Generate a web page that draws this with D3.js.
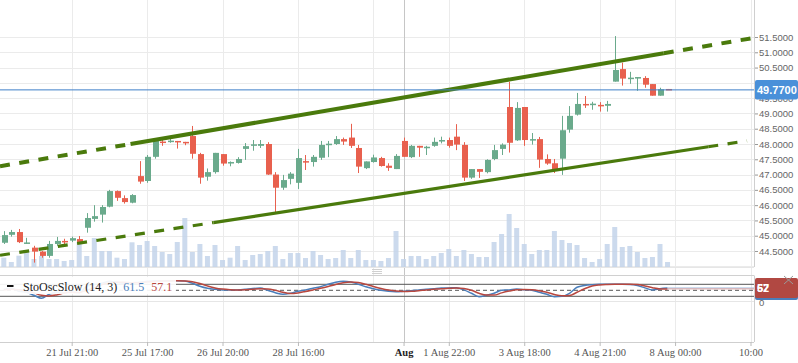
<!DOCTYPE html>
<html>
<head>
<meta charset="utf-8">
<script src="https://cdn.jsdelivr.net/npm/d3@7"></script>
<style>
  body { margin: 0; background: #fff; }
  svg { display: block; }
</style>
</head>
<body>
<svg id="chart" width="798" height="363"></svg>
<script>
// candles, one per bar (index 0..88)
const candleOpen = [
  44.77, 45.03, 45.12, 44.76, 44.61, 44.48, 44.34, 44.73, 44.83, 44.84,
  44.89, 45.26, 45.55, 45.69, 45.95, 46.46, 46.23, 46.08, 46.95, 46.79,
  47.58, 48.08, 48.08, 48.10, 48.07, 48.26, 47.67, 46.93, 47.08, 47.67,
  47.37, 47.38, 47.84, 47.94, 47.94, 48.00, 47.00, 46.57, 46.86, 46.73,
  47.44, 47.41, 47.55, 47.98, 48.00, 48.16, 48.21, 47.87, 47.21, 47.41,
  47.54, 47.29, 47.18, 48.10, 47.57, 47.94, 47.89, 47.94, 48.08, 48.13,
  48.24, 47.97, 46.90, 47.18, 47.08, 47.51, 47.84, 49.21, 48.12, 49.21,
  48.13, 48.16, 47.51, 47.37, 47.52, 48.47, 48.96, 49.31, 49.29, 49.28,
  49.25, 50.04, 50.45, 50.14, 50.14, 50.16, 49.96, 49.58, 49.80
];
const candleHigh = [
  45.15, 45.19, 45.22, 44.93, 44.67, 44.50, 44.83, 44.96, 44.90, 44.97,
  44.99, 45.74, 46.00, 46.00, 46.50, 46.48, 46.32, 46.36, 47.44, 47.64,
  48.15, 48.15, 48.21, 48.10, 48.07, 48.59, 47.71, 47.20, 47.71, 47.67,
  47.43, 47.57, 48.03, 48.13, 48.13, 48.06, 47.08, 46.99, 47.08, 47.84,
  47.64, 47.64, 48.10, 48.10, 48.26, 48.21, 48.66, 47.97, 47.43, 47.65,
  47.58, 47.37, 47.67, 48.21, 47.97, 47.94, 47.94, 48.21, 48.24, 48.21,
  48.65, 48.06, 47.18, 47.18, 47.50, 47.97, 48.02, 50.04, 49.37, 49.21,
  48.36, 48.23, 47.66, 47.51, 48.92, 49.24, 49.67, 49.57, 49.38, 49.37,
  49.41, 51.53, 50.66, 50.36, 50.19, 50.22, 49.96, 49.84, 49.80
];
const candleLow = [
  44.73, 44.97, 44.76, 44.73, 44.12, 44.28, 44.28, 44.67, 44.67, 44.79,
  44.73, 45.10, 45.46, 45.43, 45.93, 46.14, 46.05, 46.06, 46.70, 46.73,
  47.52, 47.94, 48.04, 47.85, 47.96, 47.52, 46.70, 46.80, 47.03, 47.29,
  47.27, 47.36, 47.48, 47.78, 47.87, 46.99, 45.73, 46.50, 46.68, 46.53,
  47.15, 47.26, 47.48, 47.57, 47.97, 47.97, 47.87, 47.05, 47.18, 47.39,
  47.26, 47.12, 47.18, 47.58, 47.54, 47.58, 47.64, 47.91, 48.02, 47.88,
  47.80, 46.79, 46.86, 46.89, 47.04, 47.47, 47.64, 47.72, 48.10, 47.94,
  47.98, 47.22, 47.32, 47.05, 46.99, 48.37, 48.93, 49.18, 49.12, 49.06,
  49.06, 50.04, 49.91, 49.97, 49.74, 49.84, 49.58, 49.58, 49.77
];
const candleClose = [
  45.02, 45.12, 44.79, 44.78, 44.48, 44.34, 44.73, 44.83, 44.79, 44.92,
  44.75, 45.58, 45.64, 45.94, 46.46, 46.24, 46.10, 46.33, 46.77, 47.58,
  48.10, 48.04, 48.11, 48.07, 48.03, 47.68, 46.90, 47.08, 47.71, 47.36,
  47.41, 47.51, 47.93, 47.99, 48.00, 47.00, 46.57, 46.82, 47.03, 47.54,
  47.41, 47.58, 47.97, 48.01, 48.16, 48.08, 47.94, 47.26, 47.43, 47.56,
  47.28, 47.22, 47.61, 47.58, 47.94, 47.88, 47.91, 48.07, 48.13, 47.94,
  47.98, 46.90, 47.18, 47.09, 47.48, 47.80, 47.98, 48.04, 49.18, 48.13,
  48.16, 47.49, 47.36, 47.18, 48.45, 48.92, 49.31, 49.28, 49.32, 49.24,
  49.31, 50.42, 50.14, 50.17, 50.19, 49.94, 49.58, 49.79, 49.77
];
const volumes = [
  93, 50, 113, 170, 80, 110, 80, 80, 60, 70,
  247, 110, 290, 160, 160, 93, 80, 247, 220, 260,
  210, 150, 130, 250, 490, 150, 230, 110, 220, 70,
  93, 210, 70, 120, 130, 160, 210, 80, 140, 140,
  90, 160, 120, 80, 90, 170, 90, 170, 70, 70,
  60, 90, 360, 80, 110, 110, 80, 110, 140, 180,
  110, 170, 130, 100, 100, 250, 330, 530, 390, 230,
  130, 170, 170, 360, 270, 240, 220, 90, 50, 80,
  230, 400, 200, 210, 150, 90, 100, 230, 50
];
const stochK = [
  55, 60, 45, 40, 25, 10, 30, 40, 38, 42,
  38, 70, 78, 85, 95, 90, 85, 88, 90, 95,
  98, 97, 98, 98, 96, 85, 70, 60, 55, 52,
  51, 52, 55, 59, 61, 50, 38, 30, 35, 45,
  52, 60, 68, 80, 90, 95, 92, 80, 68, 58,
  50, 45, 43, 45, 48, 52, 55, 58, 61, 62,
  63, 52, 35, 18, 25, 35, 50, 52, 56, 53,
  50, 40, 30, 18, 20, 35, 65, 74, 78, 80,
  80, 80, 80, 79, 74, 62, 52, 58, 61.5
];
const stochD = [
  52, 55, 53, 48, 37, 25, 22, 27, 36, 40,
  39, 50, 62, 78, 86, 90, 90, 88, 88, 91,
  94, 97, 97, 98, 97, 93, 84, 72, 62, 56,
  53, 52, 53, 55, 58, 57, 50, 40, 34, 37,
  44, 52, 60, 69, 79, 88, 92, 89, 80, 69,
  59, 51, 46, 44, 45, 48, 52, 55, 58, 60,
  62, 59, 50, 35, 26, 26, 37, 46, 53, 54,
  53, 48, 40, 29, 23, 24, 40, 58, 72, 77,
  79, 80, 80, 80, 79, 72, 63, 57, 57.1
];

const priceTicks = [44.5, 45, 45.5, 46, 46.5, 47, 47.5, 48, 48.5, 49, 49.5, 50, 50.5, 51, 51.5];
const priceGrid = [44, 44.5, 45, 45.5, 46, 46.5, 47, 47.5, 48, 48.5, 49, 49.5, 50, 50.5, 51, 51.5];
const gridIdx = [9, 19, 29, 39, 49, 59, 69, 79, 89, 99];
const labelIdx = [9, 19, 29, 39, 53, 59, 69, 79, 89, 99];
const timeLabels = ["21 Jul 21:00", "25 Jul 17:00", "26 Jul 20:00", "28 Jul 16:00", "Aug",
                    "1 Aug 22:00", "3 Aug 18:00", "4 Aug 21:00", "8 Aug 00:00", "10:00"];
const monthIdx = 53;

// channel anchors: [bar index, price]
const upperChannel = [[16.8, 48.00], [87.5, 50.97]];
const lowerChannel = [[27.8, 45.43], [93.4, 47.91]];
const lastPrice = 49.77;
const stochLast = [61.5, 57.1];
const stochLevels = [20, 80];

const svg = d3.select("#chart");
const right = 754;

const x = d3.scaleLinear().domain([0, 99]).range([3.8, 750.5]);
const y = d3.scaleLinear().domain([44.5, 51.5]).range([251, 37]);
const yVol = d3.scaleLinear().domain([0, 600]).range([267, 207]);
const yOsc = d3.scaleLinear().domain([0, 100]).range([300.3, 280.3]);

const green = "#6aaa8c", red = "#e8604e", lineGreen = "#4a7a0c";
const blueK = "#4a7ebb", redD = "#b8473f";

// grid
svg.append("g").selectAll("line").data(priceGrid).join("line")
    .attr("x1", 0).attr("x2", right)
    .attr("y1", d => Math.round(y(d)) + 0.5).attr("y2", d => Math.round(y(d)) + 0.5)
    .attr("stroke", "#ebebeb");

svg.append("g").selectAll("line").data(gridIdx).join("line")
    .attr("x1", d => Math.round(x(d)) + 0.5).attr("x2", d => Math.round(x(d)) + 0.5)
    .attr("y1", 0).attr("y2", 342)
    .attr("stroke", "#ebebeb");

svg.append("line")
    .attr("x1", Math.round(x(monthIdx)) + 0.5).attr("x2", Math.round(x(monthIdx)) + 0.5)
    .attr("y1", 0).attr("y2", 342)
    .attr("stroke", "#c6c6c6");

// volume
svg.append("g").selectAll("rect").data(volumes).join("rect")
    .attr("x", (d, i) => x(i) - 2.5)
    .attr("width", 5)
    .attr("y", d => yVol(d))
    .attr("height", d => yVol(0) - yVol(d))
    .attr("fill", "#c3d4ea")
    .attr("opacity", 0.85);

// candles
const candles = svg.append("g").selectAll("g").data(candleOpen).join("g");
candles.append("line")
    .attr("x1", (d, i) => Math.round(x(i)) + 0.5).attr("x2", (d, i) => Math.round(x(i)) + 0.5)
    .attr("y1", (d, i) => y(candleHigh[i])).attr("y2", (d, i) => y(candleLow[i]))
    .attr("stroke", (d, i) => candleClose[i] >= d ? green : red)
    .attr("stroke-width", 1);
candles.append("rect")
    .attr("x", (d, i) => Math.round(x(i)) - 2)
    .attr("width", 6)
    .attr("y", (d, i) => y(Math.max(d, candleClose[i])))
    .attr("height", (d, i) => Math.max(1.5, Math.abs(y(d) - y(candleClose[i]))))
    .attr("fill", (d, i) => candleClose[i] >= d ? green : red);

// channel lines
function priceAt(a, idx) {
  const t = (idx - a[0][0]) / (a[1][0] - a[0][0]);
  return a[0][1] + t * (a[1][1] - a[0][1]);
}
function drawChannel(a, width, endIdx) {
  const startIdx = x.invert(0);
  const seg = (i0, i1, dashed) => svg.append("line")
      .attr("x1", x(i0)).attr("y1", y(priceAt(a, i0)))
      .attr("x2", x(i1)).attr("y2", y(priceAt(a, i1)))
      .attr("stroke", lineGreen)
      .attr("stroke-width", width)
      .attr("stroke-dasharray", dashed ? "10,9.5" : null);
  seg(startIdx, a[0][0], true);
  seg(a[0][0], a[1][0], false);
  seg(a[1][0], endIdx, true);
}
drawChannel(upperChannel, 4, x.invert(753));
drawChannel(lowerChannel, 3.2, x.invert(747));

// last price line
svg.append("line")
    .attr("x1", 0).attr("x2", right)
    .attr("y1", y(lastPrice)).attr("y2", y(lastPrice))
    .attr("stroke", "#3f7fc8");

// price axis
const yAxis = svg.append("g")
    .attr("transform", `translate(${right},0)`)
    .call(d3.axisRight(y).tickValues(priceTicks).tickFormat(d3.format(".4f")).tickSize(4).tickPadding(1));
yAxis.select(".domain").remove();
yAxis.selectAll("line").attr("stroke", "#999");
yAxis.selectAll("text")
    .attr("fill", "#666")
    .style("font-family", "'Liberation Sans', Arial, sans-serif")
    .style("font-size", "9.5px");

svg.append("line")
    .attr("x1", right + 0.5).attr("x2", right + 0.5)
    .attr("y1", 0).attr("y2", 267)
    .attr("stroke", "#cfcfcf");
svg.append("line")
    .attr("x1", 0).attr("x2", right)
    .attr("y1", 267.5).attr("y2", 267.5)
    .attr("stroke", "#e6e6e6");

svg.append("rect")
    .attr("x", 755).attr("y", y(lastPrice) - 10)
    .attr("width", 43).attr("height", 19.5)
    .attr("rx", 2)
    .attr("fill", "#4a90d9");
svg.append("text")
    .attr("x", 757).attr("y", y(lastPrice) + 4)
    .attr("fill", "#fff")
    .style("font-family", "'Liberation Sans', Arial, sans-serif")
    .style("font-size", "11px")
    .style("font-weight", "bold")
    .text(d3.format(".4f")(lastPrice));

// pane splitter handle
[269.5, 271.5, 273.5].forEach(v => {
  svg.append("line").attr("x1", 372).attr("x2", 382).attr("y1", v).attr("y2", v).attr("stroke", "#d0d0d0");
});

// oscillator pane
svg.append("line")
    .attr("x1", 0).attr("x2", right)
    .attr("y1", 275.5).attr("y2", 275.5)
    .attr("stroke", "#d0d0d0");
svg.append("line")
    .attr("x1", 0).attr("x2", right)
    .attr("y1", 301.5).attr("y2", 301.5)
    .attr("stroke", "#e6e6e6");
svg.append("line")
    .attr("x1", right + 0.5).attr("x2", right + 0.5)
    .attr("y1", 275.5).attr("y2", 342)
    .attr("stroke", "#cfcfcf");

svg.append("g").selectAll("line").data(stochLevels).join("line")
    .attr("x1", 0).attr("x2", right)
    .attr("y1", d => yOsc(d)).attr("y2", d => yOsc(d))
    .attr("stroke", "#555");
svg.append("line")
    .attr("x1", 0).attr("x2", right)
    .attr("y1", yOsc(50)).attr("y2", yOsc(50))
    .attr("stroke", "#555")
    .attr("stroke-dasharray", "4,3");

const oscLine = d3.line().x((d, i) => x(i)).y(d => yOsc(d)).curve(d3.curveMonotoneX);
svg.append("path").datum(stochK)
    .attr("d", oscLine)
    .attr("fill", "none").attr("stroke", blueK).attr("stroke-width", 1.5);
svg.append("path").datum(stochD)
    .attr("d", oscLine)
    .attr("fill", "none").attr("stroke", redD).attr("stroke-width", 1.5);

svg.append("line")
    .attr("x1", x(88)).attr("x2", right)
    .attr("y1", yOsc(stochLast[0])).attr("y2", yOsc(stochLast[0]))
    .attr("stroke", "#9db8dc");
svg.append("line")
    .attr("x1", x(88)).attr("x2", right)
    .attr("y1", yOsc(stochLast[1])).attr("y2", yOsc(stochLast[1]))
    .attr("stroke", "#d9a2a0");

// legend
svg.append("rect")
    .attr("x", 0).attr("y", 277).attr("width", 176).attr("height", 17)
    .attr("fill", "#fff").attr("opacity", 0.92);
svg.append("rect")
    .attr("x", 7).attr("y", 285).attr("width", 6.5).attr("height", 2)
    .attr("fill", "#111");
const legend = svg.append("text")
    .attr("x", 23).attr("y", 291)
    .style("font-family", "'Liberation Serif', 'Times New Roman', serif")
    .style("font-size", "12px");
legend.append("tspan").attr("fill", "#222").text("StoOscSlow (14, 3)");
legend.append("tspan").attr("dx", 6).attr("fill", blueK).text(stochLast[0]);
legend.append("tspan").attr("dx", 7).attr("fill", redD).text(stochLast[1]);

svg.append("text")
    .attr("x", 759).attr("y", 305.5)
    .attr("fill", "#666")
    .style("font-family", "'Liberation Sans', Arial, sans-serif")
    .style("font-size", "9.5px")
    .text("0");

svg.append("rect")
    .attr("x", 755).attr("y", 280).attr("width", 43).attr("height", 20)
    .attr("rx", 2).attr("fill", blueK);
svg.append("rect")
    .attr("x", 755).attr("y", 278).attr("width", 43).attr("height", 20)
    .attr("rx", 2).attr("fill", "#b14842");
stochLast.forEach(v => {
  svg.append("text")
      .attr("x", 757).attr("y", 292)
      .attr("fill", "#fff")
      .style("font-family", "'Liberation Sans', Arial, sans-serif")
      .style("font-size", "11px")
      .style("font-weight", "bold")
      .text(Math.round(v));
});
svg.append("path")
    .attr("d", "M784,276L793,284M793,276L784,284")
    .attr("stroke", "#9a9a9a").attr("stroke-width", 1);

// time axis
const xAxis = svg.append("g")
    .attr("transform", "translate(0,342)")
    .call(d3.axisBottom(x).tickValues(labelIdx).tickFormat((d, i) => timeLabels[i]).tickSize(4).tickPadding(3));
xAxis.select(".domain").attr("d", `M0,0.5H${right}`).attr("stroke", "#cfcfcf");
xAxis.selectAll("line").attr("stroke", "#bbb");
xAxis.selectAll("text")
    .style("font-family", "'Liberation Serif', 'Times New Roman', serif")
    .style("font-size", "10.5px")
    .style("font-weight", d => d === monthIdx ? "bold" : null)
    .attr("fill", d => d === monthIdx ? "#222" : "#555");
</script>
</body>
</html>
